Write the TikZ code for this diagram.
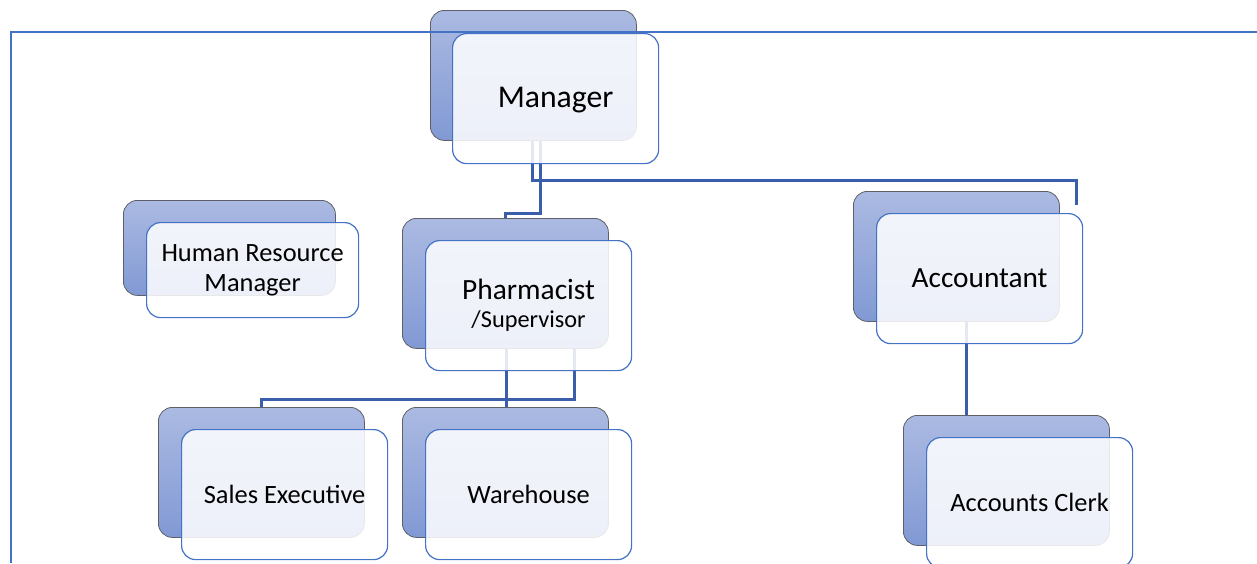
\documentclass[tikz,border=0pt]{standalone}
\usepackage{fontspec}
\setmainfont{Carlito}
\usetikzlibrary{calc}
\definecolor{backtop}{HTML}{ABBAE2}
\definecolor{backbot}{HTML}{8199D4}
\definecolor{bordergray}{HTML}{5E6066}
\definecolor{frontblue}{HTML}{4472C4}
\definecolor{connblue}{HTML}{3A5EAA}
\tikzset{
  backbox/.style={draw=bordergray, line width=0.8pt, rounded corners=14pt,
    top color=backtop, bottom color=backbot, inner sep=0pt, anchor=north west,
    minimum width=206pt, minimum height=130pt},
  frontbox/.style={draw=frontblue, line width=1.2pt, rounded corners=14pt,
    fill=white, fill opacity=0.86, text opacity=1, inner sep=0pt, anchor=north west,
    minimum width=206pt, minimum height=130pt, align=center,
    font=\fontsize{26.4}{30}\selectfont},
  conn/.style={draw=connblue, line width=3pt},
  frameline/.style={draw=frontblue, line width=2pt},
}
\begin{document}
\begin{tikzpicture}[x=1pt,y=-1pt]
\useasboundingbox (0,0) rectangle (1257,563);
% back boxes
\node[backbox] (mgrB) at (430,10) {};
\node[backbox, minimum width=212pt, minimum height=95pt] (hrB) at (123,200) {};
\node[backbox] (phB) at (402,218) {};
\node[backbox] (accB) at (853,191) {};
\node[backbox] (slB) at (158,407) {};
\node[backbox] (whB) at (402,407) {};
\node[backbox] (clB) at (903,415) {};
% connectors
\coordinate (accTip) at (1076,205);
\coordinate (phOut) at ($(phB.south)+(1,0)$);
\coordinate (accOut) at ($(accB.south)+(10,0)$);
\draw[conn] ($(mgrB.south)+(7,0)$) |- ($(phB.north)+(0,-5)$) -- (phB.north);
\draw[conn] ($(mgrB.south)+(-1,0)$) |- ($(accTip)+(0,-25)$) -- (accTip);
\draw[conn] (phOut) -- (phOut |- whB.north);
\draw[conn] ($(phB.south)+(69,0)$) |- ($(slB.north)+(0,-8)$) -- (slB.north);
\draw[conn] (accOut) -- (accOut |- clB.north);
% front boxes
\node[frontbox, font=\fontsize{31.7}{34}\selectfont] (mgr) at (452,33) {\raisebox{-1.5pt}[\height][\depth]{Manager}};
\node[frontbox, minimum width=212pt, minimum height=95pt] (hr) at (146,222) {Human Resource\\Manager};
\node[frontbox, font=\fontsize{29.4}{30}\selectfont] (ph) at (425,240) {\raisebox{-2pt}[\height][\depth]{\begin{tabular}{@{}c@{}}Pharmacist\\[-2pt]{\fontsize{24.3}{26}\selectfont /Supervisor}\end{tabular}}};
\node[frontbox, font=\fontsize{29.3}{32}\selectfont] (acc) at (876,213) {Accountant};
\node[frontbox] (sl) at (181,429) {Sales Executive};
\node[frontbox] (wh) at (425,429) {Warehouse};
\node[frontbox] (cl) at (926,437) {Accounts Clerk};
% frame
\coordinate (fA) at (11,563);
\coordinate (fB) at (11,32);
\coordinate (fC) at (1257,32);
\draw[frameline] (fA) -- (fB) -- (fC);
\end{tikzpicture}
\end{document}
